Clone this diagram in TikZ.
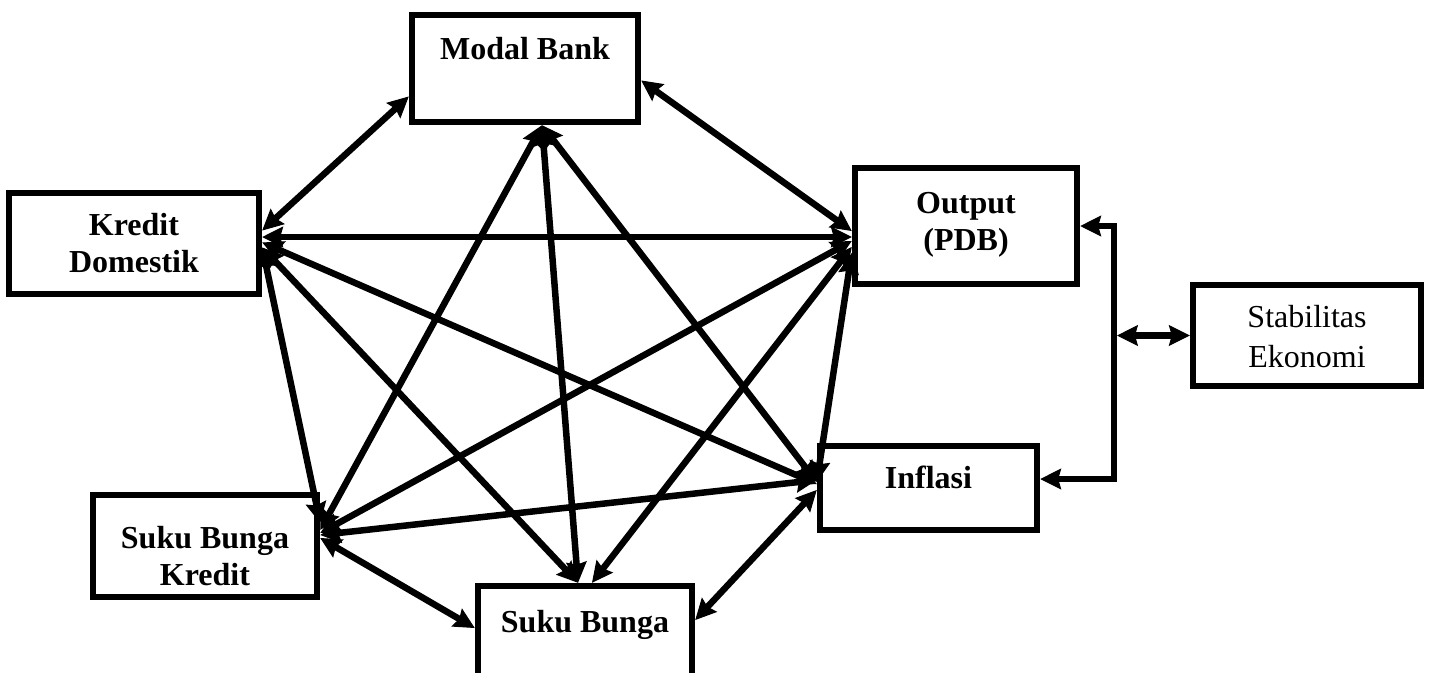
\documentclass[tikz,border=0pt]{standalone}
\usepackage{fontspec}
\setmainfont{Liberation Serif}
\usetikzlibrary{arrows.meta}
\begin{document}
\begin{tikzpicture}[x=1pt,y=-1pt,
  box/.style={draw,line width=6.5pt,fill=white,rectangle,inner sep=0pt},
  bold/.style={font=\fontsize{32}{37}\selectfont\bfseries,align=center,inner sep=0pt},
  plain/.style={font=\fontsize{32}{40}\selectfont,align=center,inner sep=0pt},
  head/.tip={Stealth[length=21pt,width=21pt,inset=3pt,line width=1pt]},
  link/.style={line width=6.5pt,head-head},
]
\useasboundingbox (0,0) rectangle (1439,672);
\clip (0,0) rectangle (1439,672);

% boxes
\node[box,minimum width=226pt,minimum height=107pt] (mb)  at (525,68.5) {};
\node[box,minimum width=250pt,minimum height=101pt] (kd)  at (134,243.5) {};
\node[box,minimum width=222pt,minimum height=116pt] (out) at (966,226) {};
\node[box,minimum width=228pt,minimum height=101pt] (stab) at (1307,335.5) {};
\node[box,minimum width=217pt,minimum height=84pt]  (inf) at (928.5,488) {};
\node[box,minimum width=224pt,minimum height=102pt] (sbk) at (205,546) {};
\node[box,minimum width=214pt,minimum height=114pt] (sb)  at (585,643) {};

% labels
\node[bold,anchor=base] (mbt) at (525,59) {Modal Bank};
\node[bold] (kdt) at (134,243.5) {Kredit\\Domestik};
\node[bold] (outt) at (966,225) {Output\\(PDB)};
\node[plain] (stabt) at (1307,337) {Stabilitas\\Ekonomi};
\node[bold,anchor=base] (inft) at (928.5,488) {Inflasi};
\node[bold] (sbkt) at (205,556) {Suku Bunga\\Kredit};
\node[bold,anchor=base] (sbt) at (585,632) {Suku Bunga};

% links between the six variables
\draw[link] ([yshift=-28pt]mb.west) -- ([yshift=13pt]kd.east);
\draw[link] ([yshift=-12pt]mb.east) -- ([yshift=-5pt]out.west);
\draw[link] ([yshift=6.5pt]kd.east) -- ([yshift=-11pt]out.west);
\draw[link] ([xshift=17pt]mb.south) -- ([yshift=16pt]sbk.east);
\draw[link] ([xshift=17pt]mb.south) -- ([xshift=-7pt]sb.north);
\draw[link] ([xshift=17pt]mb.south) -- ([yshift=6pt]inf.west);
\draw[link] ([yshift=1pt]kd.east) -- ([yshift=4pt]inf.west);
\draw[link] ([yshift=-4pt]kd.east) -- ([yshift=23pt]sbk.east);
\draw[link] ([yshift=-4pt]kd.east) -- ([xshift=-7pt]sb.north);
\draw[link] ([yshift=-15pt]out.west) -- ([yshift=13pt]sbk.east);
\draw[link] ([yshift=-21pt]out.west) -- ([xshift=7pt]sb.north);
\draw[link] ([yshift=-27pt]out.west) -- ([yshift=6pt]inf.west);
\draw[link] ([yshift=11pt]sbk.east) -- ([yshift=8pt]inf.west);
\draw[link] ([yshift=-2pt]inf.west) -- ([yshift=23pt]sb.east);
\draw[link] ([yshift=8pt]sbk.east) -- ([yshift=15pt]sb.west);

% bus to Stabilitas Ekonomi
\coordinate (busT) at (1114,226);
\coordinate (busB) at (1114,479);
\draw[link] (out.east) -- (busT) -- (busB) -- (busB -| inf.east);
\draw[link] (stab.west) -- ([xshift=3pt]stab.west -| busT);
\end{tikzpicture}
\end{document}
